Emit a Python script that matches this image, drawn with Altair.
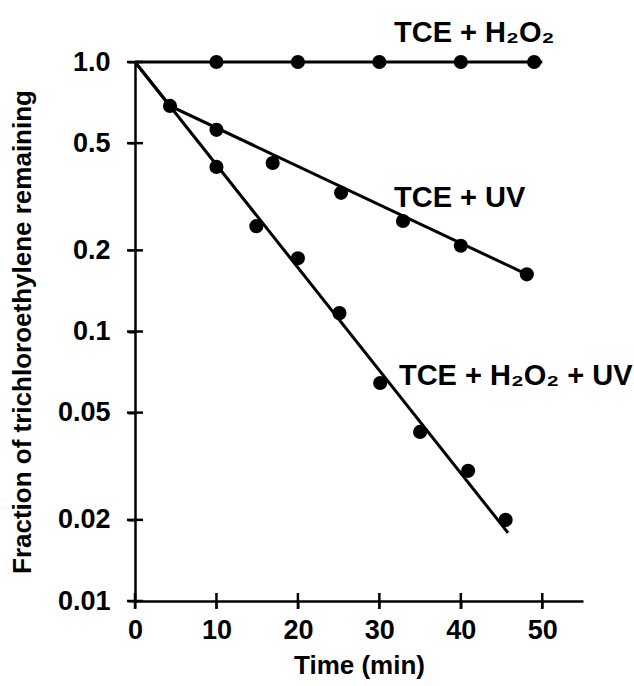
import altair as alt
import pandas as pd

# ---- data ----
# TCE + H2O2
h2o2_t = [10, 20, 30, 40, 49]
h2o2_f = [1.0, 1.0, 1.0, 1.0, 1.0]
h2o2_line_t = [0, 50]
h2o2_line_f = [1.0, 1.0]

# TCE + UV
uv_t = [4.3, 10, 16.9, 25.3, 32.9, 40.0, 48.1]
uv_f = [0.687, 0.56, 0.422, 0.327, 0.257, 0.208, 0.163]
uv_line_t = [0, 4.3, 48.1]
uv_line_f = [1.0, 0.687, 0.163]

# TCE + H2O2 + UV
both_t = [10, 14.9, 20, 25.1, 30.1, 35, 40.9, 45.5]
both_f = [0.408, 0.246, 0.187, 0.117, 0.0644, 0.0424, 0.0304, 0.020]
both_line_t = [0, 45.8]
both_line_f = [1.0, 0.0179]

label_text = ["TCE + H\u2082O\u2082", "TCE + UV", "TCE + H\u2082O\u2082 + UV"]
label_t = [31.8, 31.8, 32.4]
label_f = [1.186, 0.290, 0.0633]

x_ticks = [0, 10, 20, 30, 40, 50]
y_ticks = [1.0, 0.5, 0.2, 0.1, 0.05, 0.02, 0.01]
y_tick_labels = ["1.0", "0.5", "0.2", "0.1", "0.05", "0.02", "0.01"]

FONT = "Liberation Sans"

# ---- tables ----
lines = pd.concat([
    pd.DataFrame({"t": h2o2_line_t, "f": h2o2_line_f, "s": "h2o2"}),
    pd.DataFrame({"t": uv_line_t, "f": uv_line_f, "s": "uv"}),
    pd.DataFrame({"t": both_line_t, "f": both_line_f, "s": "both"}),
])
points = pd.concat([
    pd.DataFrame({"t": h2o2_t, "f": h2o2_f}),
    pd.DataFrame({"t": uv_t, "f": uv_f}),
    pd.DataFrame({"t": both_t, "f": both_f}),
])
labels = pd.DataFrame({"t": label_t, "f": label_f, "text": label_text})
yt = pd.DataFrame({"t": [0.0] * len(y_ticks), "f": y_ticks})
xt = pd.DataFrame({"t": [float(v) for v in x_ticks], "f": [0.01] * len(x_ticks)})

label_expr = ""
for v, lab in zip(y_ticks, y_tick_labels):
    label_expr += f"abs(datum.value - {v}) < {v * 1e-6} ? '{lab}' : "
label_expr += "datum.label"

xscale = alt.Scale(domain=[0, 55], nice=False, zero=False)
yscale = alt.Scale(type="log", domain=[0.01, 1], nice=False)

xaxis = alt.Axis(
    values=x_ticks, title="Time (min)", grid=False, labelFlush=False,
    domainColor="black", domainWidth=2.5, tickColor="black", tickWidth=2,
    tickSize=7, labelPadding=9, labelFont=FONT, labelFontSize=27,
    labelFontWeight="bold", labelColor="black", titleFont=FONT,
    titleFontSize=26, titleFontWeight="bold", titleColor="black",
    titlePadding=9,
)
yaxis = alt.Axis(
    values=y_ticks, labelExpr=label_expr, labelFlush=False,
    title="Fraction of trichloroethylene remaining", grid=False,
    domainColor="black", domainWidth=2.5, tickColor="black", tickWidth=2,
    tickSize=7, labelPadding=18, labelFont=FONT, labelFontSize=27,
    labelFontWeight="bold", labelColor="black", titleFont=FONT,
    titleFontSize=26, titleFontWeight="bold", titleColor="black",
    titlePadding=22,
)

base_x = alt.X("t:Q", scale=xscale, axis=xaxis)
base_y = alt.Y("f:Q", scale=yscale, axis=yaxis)

line_layer = alt.Chart(lines).mark_line(color="black", strokeWidth=3).encode(
    x=base_x, y=base_y, detail="s:N"
)
point_layer = alt.Chart(points).mark_circle(color="black", size=200, opacity=1).encode(
    x="t:Q", y="f:Q"
)
text_layer = alt.Chart(labels).mark_text(
    align="left", baseline="alphabetic", font=FONT, fontSize=29,
    fontWeight="bold", color="black"
).encode(x="t:Q", y="f:Q", text="text:N")
# axis ticks that cross the axis line
ytick_layer = alt.Chart(yt).mark_tick(
    orient="horizontal", size=16, thickness=2.5, color="black", opacity=1
).encode(x="t:Q", y="f:Q")
xtick_layer = alt.Chart(xt).mark_tick(
    orient="vertical", size=16, thickness=2.5, color="black", opacity=1
).encode(x="t:Q", y="f:Q")

chart = alt.layer(
    line_layer, point_layer, text_layer, ytick_layer, xtick_layer
).properties(
    width=448, height=539,
    background="white",
    autosize=alt.AutoSizeParams(type="none"),
    padding={"left": 135, "top": 62, "right": 51, "bottom": 85},
).configure_view(stroke=None)

chart.save("out.html", embed_options={"renderer": "svg", "actions": False})
